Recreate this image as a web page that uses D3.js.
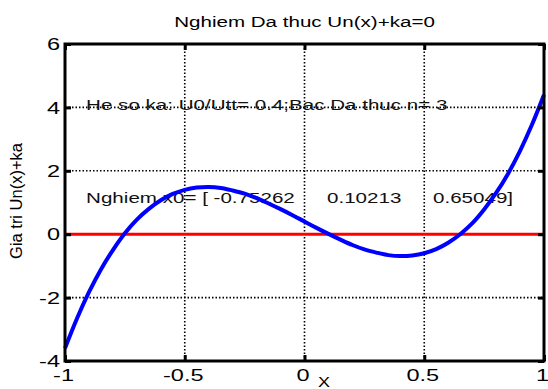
<!DOCTYPE html>
<html>
<head>
<meta charset="utf-8">
<script src="https://cdn.jsdelivr.net/npm/d3@7"></script>
<style>
  body { margin: 0; background: #fff; }
  svg { display: block; }
  text { font-family: Arial, "Liberation Sans", sans-serif; white-space: pre; }
</style>
</head>
<body>
<svg width="548" height="389"></svg>
<script>
// curve samples
const xs = [-1, -0.95, -0.9, -0.85, -0.8, -0.75, -0.7, -0.65, -0.6, -0.55, -0.5,
  -0.45, -0.4, -0.35, -0.3, -0.25, -0.2, -0.15, -0.1, -0.05, 0,
  0.05, 0.1, 0.15, 0.2, 0.25, 0.3, 0.35, 0.4, 0.45, 0.5,
  0.55, 0.6, 0.65, 0.7, 0.75, 0.8, 0.85, 0.9, 0.95, 1];
const ys = [-3.6, -2.66, -1.83, -1.11, -0.5, 0.03, 0.46, 0.8, 1.07, 1.27, 1.4,
  1.47, 1.49, 1.46, 1.38, 1.28, 1.14, 0.97, 0.79, 0.6, 0.4,
  0.2, 0.01, -0.17, -0.34, -0.48, -0.58, -0.66, -0.69, -0.67, -0.6,
  -0.47, -0.27, 0, 0.34, 0.78, 1.3, 1.91, 2.63, 3.46, 4.4];
const roots = ['-0.75262', '0.10213', '0.65049'];
const xTicks = [-1, -0.5, 0, 0.5, 1];
const xTickLabels = ['-1', '-0.5', '0', '0.5', '1'];
const yTicks = [-4, -2, 0, 2, 4, 6];
const yTickLabels = ['-4', '-2', '0', '2', '4', '6'];
const kaValue = 0.4;
const degree = 3;

const svg = d3.select('svg');
const W = 548, H = 389;
const m = {top: 44, right: 4, bottom: 28, left: 65};
const sx = 1.47; // the picture is stretched sideways

const x = d3.scaleLinear().domain([-1, 1]).range([m.left, W - m.right]);
const y = d3.scaleLinear().domain([-4, 6]).range([H - m.bottom, m.top]);

const g = svg.append('g');

// grid (dotted)
g.selectAll('.gx')
  .data(xTicks.slice(1, -1))
  .join('line')
  .attr('x1', d => x(d)).attr('x2', d => x(d))
  .attr('y1', y(-4)).attr('y2', y(6))
  .attr('stroke', '#000').attr('stroke-width', 1.6)
  .attr('stroke-dasharray', '1.5,2');
g.selectAll('.gy')
  .data(yTicks.slice(1, -1))
  .join('line')
  .attr('y1', d => y(d)).attr('y2', d => y(d))
  .attr('x1', x(-1)).attr('x2', x(1))
  .attr('stroke', '#000').attr('stroke-width', 1.6)
  .attr('stroke-dasharray', '1.5,2');

// annotations
function note(t, px, py) {
  g.append('text')
    .attr('transform', `translate(${px},${py}) scale(${sx},1)`)
    .attr('dominant-baseline', 'middle')
    .attr('font-size', 14)
    .attr('fill', '#111')
    .text(t);
}
note(`He so ka: U0/Utt= ${kaValue};Bac Da thuc n= ${degree}`, x(-0.912), y(4.05));
note(`Nghiem x0= [ ${roots[0]}`, x(-0.912), y(1.1));
note(roots[1], 327, y(1.1));
note(roots[2] + ']', 433, y(1.1));

// zero line
g.append('line')
  .attr('x1', x(-1)).attr('x2', x(1))
  .attr('y1', y(0)).attr('y2', y(0))
  .attr('stroke', '#f00').attr('stroke-width', 3);

// curve
const line = d3.line()
  .x((d, i) => x(xs[i]))
  .y(d => y(d))
  .curve(d3.curveCatmullRom);
g.append('path')
  .datum(ys)
  .attr('d', line)
  .attr('fill', 'none')
  .attr('stroke', '#0000ff')
  .attr('stroke-width', 4)
  .attr('stroke-linejoin', 'round');

// axes, ticks inside
const xAxisB = d3.axisBottom(x).tickValues(xTicks).tickSizeInner(-6).tickSizeOuter(0)
  .tickFormat((d, i) => xTickLabels[i]);
const xAxisT = d3.axisTop(x).tickValues(xTicks).tickSizeInner(-6).tickSizeOuter(0).tickFormat('');
const yAxisL = d3.axisLeft(y).tickValues(yTicks).tickSizeInner(-6).tickSizeOuter(0)
  .tickFormat((d, i) => yTickLabels[i]);
const yAxisR = d3.axisRight(y).tickValues(yTicks).tickSizeInner(-6).tickSizeOuter(0).tickFormat('');

function styleAxis(sel) {
  sel.select('.domain').remove();
  sel.selectAll('.tick line').attr('stroke', '#000').attr('stroke-width', 3);
  sel.selectAll('text').attr('fill', '#000').attr('font-size', 16)
    .attr('font-family', 'Arial, "Liberation Sans", sans-serif');
}

const gb = svg.append('g').attr('transform', `translate(0,${y(-4)})`).call(xAxisB).call(styleAxis);
gb.selectAll('.tick text')
  .attr('y', 0).attr('dy', 0)
  .attr('transform', `translate(-2,20) scale(${sx},1)`);
svg.append('g').attr('transform', `translate(0,${y(6)})`).call(xAxisT).call(styleAxis);
const gl = svg.append('g').attr('transform', `translate(${x(-1)},0)`).call(yAxisL).call(styleAxis);
gl.selectAll('.tick text')
  .attr('x', 0).attr('dy', '0.36em')
  .attr('transform', `translate(-5,0) scale(${sx},1)`);
svg.append('g').attr('transform', `translate(${x(1)},0)`).call(yAxisR).call(styleAxis);

// box
svg.append('rect')
  .attr('x', x(-1)).attr('y', y(6))
  .attr('width', x(1) - x(-1)).attr('height', y(-4) - y(6))
  .attr('fill', 'none').attr('stroke', '#000').attr('stroke-width', 3);

// title and labels
svg.append('text')
  .attr('transform', `translate(${(x(-1) + x(1)) / 2},27) scale(${sx},1)`)
  .attr('text-anchor', 'middle')
  .attr('font-size', 14)
  .text('Nghiem Da thuc Un(x)+ka=0');

svg.append('text')
  .attr('transform', `translate(324,387) scale(1.2,1)`)
  .attr('text-anchor', 'middle')
  .attr('font-family', '"Liberation Serif", "DejaVu Serif", serif')
  .attr('font-size', 15)
  .text('X');

svg.append('text')
  .attr('transform', `translate(22,201) rotate(-90) scale(1.1,1.15)`)
  .attr('text-anchor', 'middle')
  .attr('font-size', 15)
  .text('Gia tri Un(x)+ka');
</script>
</body>
</html>
